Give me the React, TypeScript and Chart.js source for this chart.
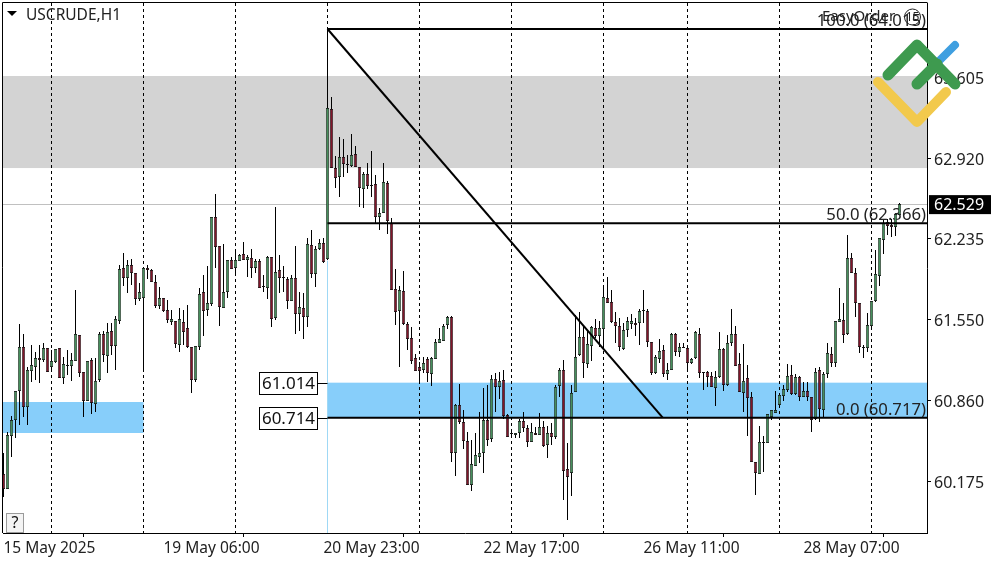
import React, { useEffect, useRef } from "react";
import { Chart, registerables } from "chart.js";

Chart.register(...registerables);

const opens = [
60.239,60.112,60.561,60.697,60.943,61.317,60.807,61.113,61.147,61.223,
61.206,61.308,61.147,61.189,61.308,61.054,61.164,61.155,61.198,61.419,
61.105,60.859,61.206,60.833,61.037,61.427,61.240,61.452,61.325,61.537,
61.987,61.902,62.012,61.945,61.724,61.732,61.987,61.970,61.868,61.665,
61.732,61.631,61.529,61.537,61.334,61.529,61.478,61.317,61.037,61.317,
61.783,61.631,61.682,62.420,62.174,61.648,61.783,62.055,61.987,62.046,
62.106,62.055,62.072,61.987,62.046,61.834,61.817,62.080,61.563,61.970,
61.911,61.893,61.707,61.902,61.597,61.648,61.571,62.182,61.936,62.148,
62.199,62.063,63.336,62.836,62.759,62.929,62.869,62.852,62.954,62.844,
62.657,62.785,62.691,62.700,62.420,62.454,62.708,62.369,61.809,61.622,
61.792,61.512,61.393,61.223,61.147,61.122,61.215,61.088,61.215,61.351,
61.368,61.503,61.571,60.418,60.825,60.680,60.519,60.146,60.307,60.383,
60.418,60.697,60.536,61.046,60.978,61.037,60.739,60.587,60.570,60.587,
60.689,60.629,60.511,60.587,60.570,60.638,60.485,60.587,60.553,60.986,
61.122,60.282,60.248,60.935,61.249,61.402,61.172,61.325,61.478,61.410,
61.469,61.732,61.699,61.529,61.495,61.300,61.461,61.512,61.520,61.520,
61.631,61.622,61.359,61.096,61.215,61.291,61.088,61.122,61.427,61.274,
61.317,61.308,61.181,61.223,61.427,61.105,61.105,61.071,60.969,61.062,
61.300,60.995,61.351,61.427,61.172,60.927,61.054,60.893,60.341,60.239,
60.502,60.502,60.722,60.757,60.825,60.901,60.952,61.079,60.918,61.062,
60.893,60.943,60.893,60.706,61.122,60.782,61.088,61.257,61.181,61.529,
61.546,61.427,62.072,61.945,61.690,61.317,61.308,61.495,61.707,61.919,
62.225,62.377,62.352,62.335,62.437];

const highs = [
60.418,60.595,60.731,60.943,61.512,61.427,61.147,61.334,61.274,61.334,
61.351,61.308,61.291,61.300,61.308,61.232,61.291,61.266,61.800,61.419,
61.105,61.198,61.223,61.223,61.444,61.452,61.520,61.520,61.580,62.012,
62.114,62.055,62.063,61.945,61.860,61.995,62.012,61.978,61.928,61.826,
61.732,61.716,61.631,61.537,61.648,61.631,61.673,61.317,61.325,61.817,
61.928,62.004,62.420,62.615,62.174,62.191,62.055,62.080,62.140,62.106,
62.208,62.097,62.148,62.063,62.063,61.928,62.089,62.080,62.505,62.097,
62.004,61.911,61.928,62.174,61.783,61.775,62.242,62.309,62.174,62.233,
62.242,64.015,63.438,62.937,63.099,63.082,62.946,63.124,63.022,62.844,
62.802,62.878,62.980,62.776,62.496,62.878,62.725,62.411,61.978,61.834,
61.961,61.529,61.486,61.257,61.189,61.232,61.232,61.232,61.385,61.478,
61.512,61.580,61.580,60.833,61.003,60.782,60.595,60.528,60.587,60.765,
60.969,60.995,61.079,61.096,61.105,61.122,60.748,60.595,60.587,60.706,
60.765,60.655,60.672,60.638,60.757,60.689,60.646,60.672,60.995,61.139,
61.206,60.502,60.995,61.588,61.614,61.503,61.461,61.495,61.554,61.537,
61.843,61.911,61.800,61.614,61.563,61.520,61.571,61.597,61.563,61.639,
61.800,61.639,61.359,61.249,61.385,61.334,61.181,61.436,61.436,61.351,
61.351,61.308,61.223,61.452,61.478,61.105,61.113,61.105,61.113,61.444,
61.308,61.419,61.639,61.495,61.266,61.342,61.164,60.935,60.341,60.646,
60.561,60.748,60.782,60.943,60.918,60.995,61.172,61.164,61.088,61.071,
61.020,61.020,60.893,61.139,61.147,61.105,61.351,61.317,61.537,61.817,
61.690,62.267,62.114,61.987,61.690,61.334,61.605,61.707,62.140,62.242,
62.394,62.403,62.403,62.445,62.539];

const lows = [
60.044,60.112,60.383,60.544,60.655,60.722,60.655,61.020,61.037,61.012,
61.189,61.105,61.122,61.181,61.054,61.003,61.079,61.029,61.198,61.062,
60.722,60.859,60.748,60.765,61.020,61.189,61.096,61.249,61.122,61.512,
61.834,61.775,61.843,61.673,61.707,61.122,61.893,61.868,61.648,61.639,
61.614,61.520,61.503,61.308,61.274,61.334,61.308,60.927,61.020,61.291,
61.410,61.580,61.665,61.987,61.495,61.648,61.732,61.978,61.945,62.046,
62.055,61.911,61.902,61.945,61.817,61.783,61.724,61.486,61.546,61.775,
61.783,61.639,61.707,61.427,61.452,61.385,61.486,61.902,61.826,62.140,
62.029,62.055,62.836,62.666,62.589,62.759,62.793,62.844,62.844,62.505,
62.496,62.657,62.589,62.369,62.309,62.454,62.275,61.800,61.503,61.147,
61.503,61.291,61.172,61.113,61.020,61.096,61.020,60.986,61.215,61.351,
61.368,61.469,60.341,60.222,60.663,60.451,60.146,60.095,60.307,60.332,
60.248,60.477,60.511,60.765,60.875,60.706,60.553,60.570,60.544,60.544,
60.595,60.468,60.511,60.570,60.570,60.468,60.375,60.485,60.536,60.893,
60.019,59.849,60.052,60.935,61.240,61.054,61.139,61.198,61.393,61.317,
61.308,61.690,61.520,61.351,61.283,61.291,61.402,61.469,61.410,61.334,
61.520,61.317,61.079,61.088,61.181,61.062,61.037,61.122,61.240,61.232,
61.308,61.122,61.172,61.215,61.054,60.952,60.978,60.978,60.816,61.054,
60.943,60.986,61.325,61.155,60.935,60.765,60.561,60.341,60.061,60.239,
60.256,60.502,60.697,60.757,60.807,60.859,60.935,60.910,60.910,60.859,
60.893,60.859,60.595,60.697,60.680,60.722,61.054,61.147,61.147,61.529,
61.351,61.419,61.945,61.571,61.266,61.223,61.274,61.486,61.699,61.834,
62.106,62.267,62.250,62.258,62.437];

const closes = [
60.112,60.570,60.697,60.943,61.317,60.807,61.122,61.164,61.223,61.206,
61.308,61.105,61.198,61.300,61.054,61.172,61.155,61.206,61.427,61.096,
60.859,61.198,60.842,61.029,61.427,61.249,61.444,61.325,61.554,61.978,
61.902,62.012,61.945,61.724,61.783,61.987,61.970,61.868,61.665,61.732,
61.622,61.546,61.554,61.342,61.554,61.444,61.317,61.037,61.325,61.766,
61.622,61.690,62.420,62.165,61.656,61.783,62.055,61.978,62.055,62.097,
62.055,62.080,61.987,62.046,61.817,61.826,62.080,61.554,61.953,61.902,
61.902,61.707,61.902,61.597,61.656,61.571,62.191,61.936,62.148,62.199,
62.038,63.345,62.836,62.751,62.929,62.869,62.861,62.946,62.844,62.666,
62.785,62.683,62.683,62.420,62.454,62.717,62.386,61.800,61.614,61.800,
61.512,61.385,61.198,61.113,61.113,61.181,61.096,61.223,61.359,61.385,
61.495,61.571,60.418,60.825,60.680,60.519,60.146,60.324,60.400,60.418,
60.697,60.528,61.046,60.978,61.029,60.731,60.553,60.578,60.587,60.689,
60.629,60.511,60.595,60.570,60.638,60.477,60.587,60.553,60.978,61.122,
60.265,60.214,60.927,61.232,61.402,61.181,61.342,61.486,61.410,61.478,
61.741,61.690,61.529,61.495,61.317,61.461,61.537,61.537,61.503,61.622,
61.622,61.359,61.096,61.232,61.283,61.088,61.122,61.427,61.274,61.317,
61.308,61.181,61.215,61.444,61.096,61.096,61.062,60.978,61.062,61.300,
60.995,61.351,61.427,61.155,60.935,61.029,60.884,60.341,60.248,60.511,
60.511,60.748,60.782,60.782,60.910,60.960,61.071,60.918,61.062,60.893,
60.943,60.893,60.697,61.105,60.790,61.088,61.266,61.181,61.537,61.554,
61.419,62.072,61.945,61.690,61.317,61.308,61.503,61.707,61.936,62.242,
62.369,62.343,62.335,62.445,62.529];

const xTickIndex = [0, 40, 80, 120, 160, 200];
const xTickLabels = ["15 May 2025", "19 May 06:00", "20 May 23:00", "22 May 17:00", "26 May 11:00", "28 May 07:00"];
const gridIndex = [12, 35, 58, 81, 104, 127, 150, 171, 194, 217];
const yTickValues = [60.175, 60.86, 61.55, 62.235, 62.92, 63.605];
const lastPrice = 62.529;
const fibLevels = [
  { label: "100.0 (64.015)", value: 64.015 },
  { label: "50.0 (62.366)", value: 62.366 },
  { label: "0.0 (60.717)", value: 60.717 },
];
const fibStartIndex = 81;
const fibDiagonalEnd = { x: 164.8, y: 60.717 };
const grayZone = { from: -0.125, to: 230.875, top: 63.616, bottom: 62.835 };
const blueZones = [
  { from: -0.125, to: 35, top: 60.85, bottom: 60.587 },
  { from: 81, to: 230.875, top: 61.014, bottom: 60.714 },
];
const levelTags = [61.014, 60.714];

const FONT = '"Noto Sans", sans-serif';
const UP = "#468f5c";
const DOWN = "#80152a";
const xMin = -0.125;
const xMax = 230.875;

const overlayPlugin = {
  id: "overlay",
  beforeDatasetsDraw(chart: any) {
    const { ctx, chartArea: a, scales } = chart;
    const X = scales.x, Y = scales.y;
    const px = (v: number) => Math.round(X.getPixelForValue(v) - 0.5) + 0.5;
    ctx.save();
    ctx.fillStyle = "#d3d3d3";
    ctx.fillRect(X.getPixelForValue(grayZone.from), Y.getPixelForValue(grayZone.top),
      X.getPixelForValue(grayZone.to) - X.getPixelForValue(grayZone.from),
      Y.getPixelForValue(grayZone.bottom) - Y.getPixelForValue(grayZone.top));
    ctx.fillStyle = "#87cefa";
    for (const z of blueZones) {
      const l = X.getPixelForValue(z.from), r = X.getPixelForValue(z.to);
      const t = Y.getPixelForValue(z.top), b = Y.getPixelForValue(z.bottom);
      ctx.fillRect(l, t, r - l, b - t);
    }
    // grid
    ctx.strokeStyle = "#000";
    ctx.lineWidth = 1;
    ctx.setLineDash([3, 3]);
    for (const g of gridIndex) {
      ctx.beginPath();
      ctx.moveTo(px(g), a.top);
      ctx.lineTo(px(g), a.bottom);
      ctx.stroke();
    }
    ctx.setLineDash([]);
    // light blue vertical from the fib start
    ctx.strokeStyle = "#9fd8f5";
    ctx.beginPath();
    ctx.moveTo(px(fibStartIndex), Y.getPixelForValue(62.05));
    ctx.lineTo(px(fibStartIndex), a.bottom);
    ctx.stroke();
    // last-price line
    const ly = Math.round(Y.getPixelForValue(lastPrice)) + 0.5;
    ctx.strokeStyle = "#c0c0c0";
    ctx.beginPath();
    ctx.moveTo(a.left, ly);
    ctx.lineTo(a.right, ly);
    ctx.stroke();
    // fib labels
    ctx.fillStyle = "#222";
    ctx.font = `16.7px ${FONT}`;
    ctx.textAlign = "right";
    ctx.textBaseline = "alphabetic";
    for (const f of fibLevels) {
      ctx.fillText(f.label, a.right - 1, Y.getPixelForValue(f.value) - 3);
    }
    ctx.restore();
  },
  afterDraw(chart: any) {
    const { ctx, chartArea: a, scales } = chart;
    const Y = scales.y, X = scales.x;
    ctx.save();
    // frame top / left
    ctx.strokeStyle = "#000";
    ctx.lineWidth = 1;
    ctx.beginPath();
    ctx.moveTo(a.left - 0.5, a.bottom);
    ctx.lineTo(a.left - 0.5, a.top - 0.5);
    ctx.lineTo(a.right + 0.5, a.top - 0.5);
    ctx.stroke();
    // title
    ctx.fillStyle = "#000";
    ctx.beginPath();
    ctx.moveTo(7, 11);
    ctx.lineTo(17, 11);
    ctx.lineTo(12, 16);
    ctx.closePath();
    ctx.fill();
    ctx.fillStyle = "#222";
    ctx.font = `15.5px ${FONT}`;
    ctx.textAlign = "left";
    ctx.textBaseline = "middle";
    ctx.fillText("USCRUDE,H1", 26, 16);
    // EasyOrder
    ctx.font = `15px ${FONT}`;
    ctx.textAlign = "left";
    ctx.fillText("EasyOrder", 822, 17);
    ctx.strokeStyle = "#222";
    ctx.beginPath();
    ctx.arc(912.5, 17, 8, 0, Math.PI * 2);
    ctx.stroke();
    ctx.font = `12px ${FONT}`;
    ctx.textAlign = "center";
    ctx.fillText("15", 912.5, 18);
    // help button
    ctx.fillStyle = "#f4f4f4";
    ctx.strokeStyle = "#9a9a9a";
    ctx.fillRect(7, 513, 17, 20);
    ctx.strokeRect(6.5, 513.5, 17, 19);
    ctx.fillStyle = "#111";
    ctx.font = `16px ${FONT}`;
    ctx.fillText("?", 15, 523);
    // level tags
    for (const v of levelTags) {
      const y = Math.round(Y.getPixelForValue(v));
      ctx.fillStyle = "#fff";
      ctx.fillRect(259, y - 11, 59, 22);
      ctx.strokeStyle = "#000";
      ctx.strokeRect(259.5, y - 10.5, 58, 22);
      ctx.fillStyle = "#111";
      ctx.font = `17px ${FONT}`;
      ctx.textAlign = "center";
      ctx.textBaseline = "middle";
      ctx.fillText(v.toFixed(3), 288.5, y + 1);
      ctx.beginPath();
      ctx.moveTo(318, y + 0.5);
      ctx.lineTo(X.getPixelForValue(fibStartIndex), y + 0.5);
      ctx.stroke();
    }
    // last price tag
    const ly = Y.getPixelForValue(lastPrice);
    ctx.fillStyle = "#000";
    ctx.fillRect(929, ly - 9, 62, 19);
    ctx.fillStyle = "#fff";
    ctx.font = `16px ${FONT}`;
    ctx.textAlign = "left";
    ctx.fillText(lastPrice.toFixed(3), 934, ly + 1);
    // logo
    ctx.lineCap = "round";
    ctx.lineJoin = "round";
    const poly = (c: string, w: number, pts: number[][]) => {
      ctx.strokeStyle = c;
      ctx.lineWidth = w;
      ctx.beginPath();
      pts.forEach((p, i) => (i ? ctx.lineTo(p[0], p[1]) : ctx.moveTo(p[0], p[1])));
      ctx.stroke();
    };
    poly("#3f9fe0", 8, [[938, 62], [955, 45]]);
    poly("#f2c94c", 10, [[878, 82], [917, 122], [946, 92]]);
    poly("#3e9a4f", 11, [[888, 75], [917, 45], [955, 84]]);
    poly("#3e9a4f", 11, [[917, 84], [937, 64]]);
    ctx.restore();
  },
};

const noPad = (s: any) => {
  s.paddingTop = 0;
  s.paddingBottom = 0;
  s.paddingLeft = 0;
  s.paddingRight = 0;
};

export default function App() {
  const ref = useRef<HTMLCanvasElement>(null);
  useEffect(() => {
    document.body.style.margin = "0";
    const idx = opens.map((_, i) => i);
    const colors = opens.map((o, i) => (closes[i] >= o ? UP : DOWN));
    const chart = new Chart(ref.current as HTMLCanvasElement, {
      type: "bar",
      plugins: [overlayPlugin],
      data: {
        datasets: [
          {
            type: "line",
            order: 0,
            data: [{ x: fibStartIndex, y: fibLevels[0].value }, { x: xMax, y: fibLevels[0].value }],
            borderColor: "#000", borderWidth: 2, pointRadius: 0,
          },
          {
            type: "line",
            order: 0,
            data: [{ x: fibStartIndex, y: fibLevels[1].value }, { x: xMax, y: fibLevels[1].value }],
            borderColor: "#000", borderWidth: 2, pointRadius: 0,
          },
          {
            type: "line",
            order: 0,
            data: [{ x: fibStartIndex, y: fibLevels[2].value }, { x: xMax, y: fibLevels[2].value }],
            borderColor: "#000", borderWidth: 2, pointRadius: 0,
          },
          {
            type: "line",
            order: 0,
            data: [{ x: fibStartIndex, y: fibLevels[0].value }, fibDiagonalEnd],
            borderColor: "#000", borderWidth: 2, pointRadius: 0,
          },
          {
            type: "bar",
            order: 1,
            data: idx.map((i) => ({ x: i, y: [opens[i], closes[i]] })),
            backgroundColor: colors,
            borderColor: "#111",
            borderWidth: 0.7,
            borderSkipped: false,
            inflateAmount: 0,
            barThickness: 3,
            grouped: false,
          },
          {
            type: "bar",
            order: 2,
            data: idx.map((i) => ({ x: i, y: [lows[i], highs[i]] })),
            backgroundColor: "#000",
            borderWidth: 0,
            inflateAmount: 0,
            barThickness: 1,
            grouped: false,
          },
        ] as any,
      },
      options: {
        responsive: false,
        animation: false,
        devicePixelRatio: 1,
        layout: { padding: { left: 3, top: 3, right: 0, bottom: 0 } },
        plugins: { legend: { display: false }, tooltip: { enabled: false } },
        scales: {
          x: {
            type: "linear",
            min: xMin,
            max: xMax,
            offset: false,
            afterBuildTicks: (s: any) => { s.ticks = xTickIndex.map((value) => ({ value })); },
            afterFit: (s: any) => { s.height = 29; noPad(s); },
            grid: { drawOnChartArea: false, drawTicks: true, tickLength: 4, color: "#000" },
            border: { color: "#000", width: 1 },
            ticks: {
              autoSkip: false,
              maxRotation: 0,
              align: "start",
              padding: 2,
              color: "#222",
              font: { family: FONT, size: 15.5 },
              callback: (v: any) => xTickLabels[xTickIndex.indexOf(v)],
            },
          },
          y: {
            type: "linear",
            position: "right",
            min: 59.7385,
            max: 64.2355,
            afterBuildTicks: (s: any) => { s.ticks = yTickValues.map((value) => ({ value })); },
            afterFit: (s: any) => { s.width = 73; noPad(s); },
            grid: { drawOnChartArea: false, drawTicks: true, tickLength: 4, color: "#000" },
            border: { color: "#000", width: 1 },
            ticks: {
              autoSkip: false,
              padding: 3,
              labelOffset: 2,
              color: "#222",
              font: { family: FONT, size: 16 },
              callback: (v: any) => Number(v).toFixed(3),
            },
          },
        },
      } as any,
    });
    return () => chart.destroy();
  }, []);
  return <canvas ref={ref} width={1000} height={562} style={{ display: "block", width: 1000, height: 562 }} />;
}
